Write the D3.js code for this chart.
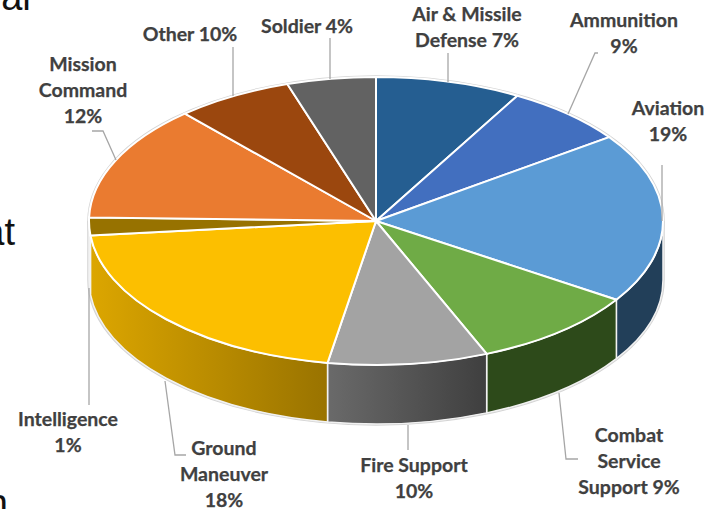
<!DOCTYPE html>
<html>
<head>
<meta charset="utf-8">
<script src="https://cdn.jsdelivr.net/npm/d3@7"></script>
<style>
  html, body { margin: 0; padding: 0; background: #fff; overflow: hidden; }
  .label { font-family: Lato, sans-serif; font-weight: 700; font-size: 19.5px; fill: #404040; stroke: #404040; stroke-width: 0.25; text-anchor: middle; }
  .slideText { font-family: "Liberation Sans", sans-serif; font-size: 38px; fill: #111; text-anchor: end; }
</style>
</head>
<body>
<div id="chart"></div>
<script>
var categories = ['Air & Missile Defense', 'Ammunition', 'Aviation', 'Combat Service Support',
  'Fire Support', 'Ground Maneuver', 'Intelligence', 'Mission Command', 'Other', 'Soldier'];
// what the labels print
var labelPercents = [7, 9, 19, 9, 10, 18, 1, 12, 10, 4];
// what the slices measure on the picture (they do not agree with the labels)
var sliceShares = [8.2, 6.9, 19.1, 9.5, 9, 20.7, 2, 13, 6.6, 5];

var topColors = ['#255e91', '#426fbf', '#5b9bd5', '#6fab46', '#a3a3a3', '#fcbf00', '#977200', '#ea7b30', '#9b470e', '#626262'];
var sideFrom = ['#1a4266', '#2f4f86', '#223f59', '#2d4a1a', '#6a6a6a', '#dca600', '#6b5000', '#a65822', '#6f320a', '#454545'];
var sideTo = ['#1a4266', '#2f4f86', '#223f59', '#2d4a1a', '#3f3f3f', '#997300', '#6b5000', '#a65822', '#6f320a', '#454545'];

// label layout, same order as categories
var labelLines = [
  ['Air & Missile', 'Defense 7%'], ['Ammunition', '9%'], ['Aviation', '19%'],
  ['Combat', 'Service', 'Support 9%'], ['Fire Support', '10%'], ['Ground', 'Maneuver', '18%'],
  ['Intelligence', '1%'], ['Mission', 'Command', '12%'], ['Other 10%'], ['Soldier 4%']
];
var labelSpots = [[467, 21], [624, 27], [668, 115], [629, 442], [414, 472], [224, 455], [68, 426], [83, 71], [190, 41], [307, 33]];
var leaders = [
  [[448, 53], [448, 82]],
  [[598, 53], [595, 53], [568, 114]],
  [[662, 165], [662, 221]],
  [[559, 393], [566, 459], [578, 459]],
  [[408, 425], [408, 450]],
  [[165, 381], [175, 455], [186, 455]],
  [[89, 288], [89, 405]],
  [[92, 131], [103, 131], [116, 160]],
  [[233, 47], [233, 96]],
  [[330, 38], [330, 79]]
];

var width = 715, height = 509,
  cx = 376, cy = 221,
  rx = 287, ry = 144,
  depth = 59,
  lineHeight = 26;

var svg = d3.select('#chart').append('svg')
  .attr('width', width)
  .attr('height', height)
  .style('display', 'block');

// bits of the slide text behind the chart
svg.append('text').attr('class', 'slideText').attr('x', 35).attr('y', 10).text('ear');
svg.append('text').attr('class', 'slideText').attr('x', 15).attr('y', 245).text('at');
svg.append('text').attr('class', 'slideText').attr('x', 8).attr('y', 516).text('n');

var slices = d3.pie().sort(null).value(function (d) { return d; })(sliceShares);

function rim(a, dy) {
  return [cx + rx * Math.sin(a), cy - ry * Math.cos(a) + (dy || 0)];
}

function wallPath(a0, a1) {
  var p0 = rim(a0), p1 = rim(a1), q1 = rim(a1, depth), q0 = rim(a0, depth);
  return 'M' + p0 + 'A' + rx + ',' + ry + ' 0 0 1 ' + p1 +
    'L' + q1 + 'A' + rx + ',' + ry + ' 0 0 0 ' + q0 + 'Z';
}

// grey halo round the whole drum
var halo = svg.append('g').attr('fill', 'none').attr('stroke', '#d4d4d4').attr('stroke-width', 3.5);
halo.append('path').attr('d', wallPath(Math.PI / 2, Math.PI * 1.5));
halo.append('ellipse').attr('cx', cx).attr('cy', cy).attr('rx', rx).attr('ry', ry);

var defs = svg.append('defs');
var walls = svg.append('g');

slices.forEach(function (s, i) {
  // only the front half of the drum shows
  var a0 = Math.max(s.startAngle, Math.PI / 2), a1 = Math.min(s.endAngle, Math.PI * 1.5);
  if (a0 >= a1) return;
  var x0 = rim(a0)[0], x1 = rim(a1)[0];
  var grad = defs.append('linearGradient')
    .attr('id', 'side' + i)
    .attr('gradientUnits', 'userSpaceOnUse')
    .attr('x1', Math.min(x0, x1)).attr('x2', Math.max(x0, x1))
    .attr('y1', 0).attr('y2', 0);
  grad.append('stop').attr('offset', 0).attr('stop-color', sideFrom[i]);
  grad.append('stop').attr('offset', 1).attr('stop-color', sideTo[i]);
  walls.append('path')
    .attr('d', wallPath(a0, a1))
    .attr('fill', 'url(#side' + i + ')')
    .attr('stroke', '#f2f2f2')
    .attr('stroke-width', 1.5);
});

var arc = d3.arc().innerRadius(0).outerRadius(rx);

svg.append('g')
  .attr('transform', 'translate(' + cx + ',' + cy + ') scale(1,' + (ry / rx) + ')')
  .selectAll('path')
  .data(slices)
  .enter()
  .append('path')
  .attr('d', arc)
  .attr('fill', function (d, i) { return topColors[i]; })
  .attr('stroke', '#fff')
  .attr('stroke-width', 2)
  .attr('vector-effect', 'non-scaling-stroke');

var leaderLine = d3.line();

svg.append('g')
  .selectAll('path')
  .data(leaders)
  .enter()
  .append('path')
  .attr('d', leaderLine)
  .attr('fill', 'none')
  .attr('stroke', '#a6a6a6')
  .attr('stroke-width', 1.3);

var labels = svg.append('g')
  .selectAll('text')
  .data(labelLines)
  .enter()
  .append('text')
  .attr('class', 'label')
  .attr('x', function (d, i) { return labelSpots[i][0]; })
  .attr('y', function (d, i) { return labelSpots[i][1]; });

labels.selectAll('tspan')
  .data(function (d, i) { return d.map(function (t) { return { text: t, x: labelSpots[i][0] }; }); })
  .enter()
  .append('tspan')
  .attr('x', function (d) { return d.x; })
  .attr('dy', function (d, i) { return i ? lineHeight : 0; })
  .text(function (d) { return d.text; });
</script>
</body>
</html>
